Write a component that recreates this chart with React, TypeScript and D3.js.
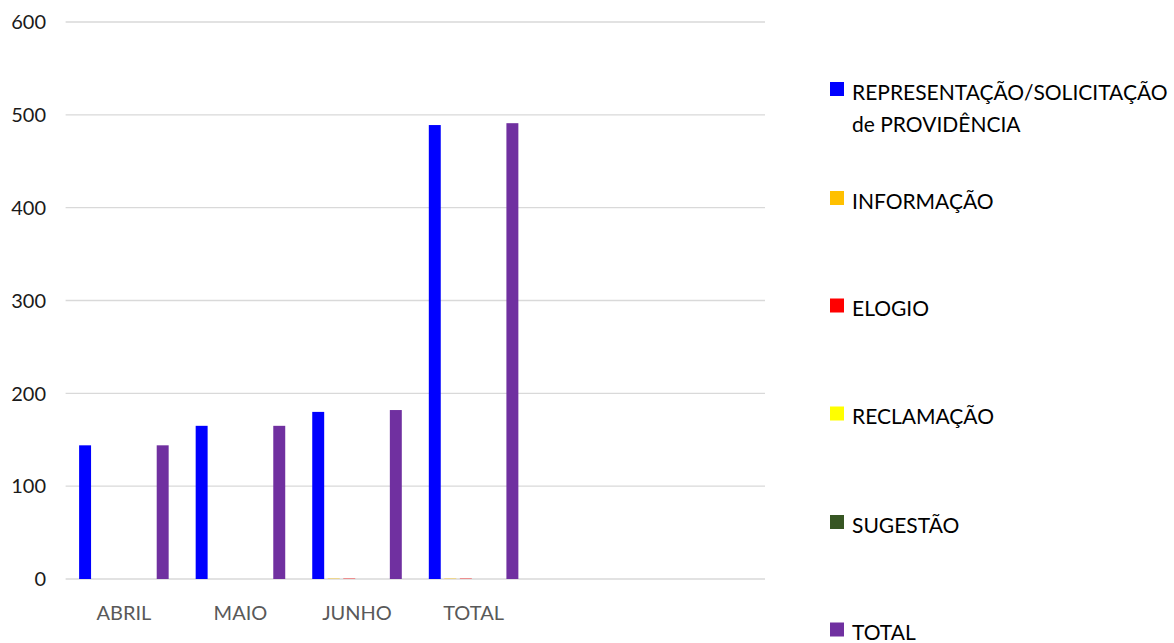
import React from "react";
import * as d3 from "d3";

const WIDTH = 1174;
const HEIGHT = 643;

// categories (last two slots are empty in the original sheet)
const categories = ["ABRIL", "MAIO", "JUNHO", "TOTAL", "", ""];

const seriesNames = [
  "REPRESENTAÇÃO/SOLICITAÇÃO de PROVIDÊNCIA",
  "INFORMAÇÃO",
  "ELOGIO",
  "RECLAMAÇÃO",
  "SUGESTÃO",
  "TOTAL",
];
const seriesColors = ["#0000FF", "#FFC000", "#FF0000", "#FFFF00", "#375623", "#7030A0"];

const representacao = [144, 165, 180, 489, 0, 0];
const informacao = [0, 0, 1, 1, 0, 0];
const elogio = [0, 0, 1, 1, 0, 0];
const reclamacao = [0, 0, 0, 0, 0, 0];
const sugestao = [0, 0, 0, 0, 0, 0];
const total = [144, 165, 182, 491, 0, 0];

const seriesValues = [representacao, informacao, elogio, reclamacao, sugestao, total];

const yTicks = [0, 100, 200, 300, 400, 500, 600];

const FONT = "Lato, 'Open Sans', sans-serif";

const App = () => {
  const svgRef = React.useRef<SVGSVGElement>(null);

  React.useEffect(() => {
    const svg = d3.select(svgRef.current);
    svg.selectAll("*").remove();

    const x0 = d3
      .scaleBand<number>()
      .domain(d3.range(categories.length))
      .range([65.6, 765]);

    const x1 = d3
      .scaleBand<number>()
      .domain(d3.range(seriesNames.length))
      .range([0, x0.bandwidth()])
      .paddingInner(0.23)
      .paddingOuter(0.87);

    const y = d3.scaleLinear().domain([0, 600]).range([579, 22]);

    // gridlines
    svg
      .append("g")
      .selectAll("line")
      .data(yTicks)
      .join("line")
      .attr("x1", x0.range()[0])
      .attr("x2", x0.range()[1])
      .attr("y1", (d) => y(d))
      .attr("y2", (d) => y(d))
      .attr("stroke", "#d9d9d9")
      .attr("stroke-width", 1.3);

    // y tick labels
    svg
      .append("g")
      .attr("font-family", FONT)
      .attr("font-size", 20)
      .attr("text-anchor", "end")
      .selectAll("text")
      .data(yTicks)
      .join("text")
      .attr("x", 46)
      .attr("y", (d) => y(d))
      .attr("dy", "0.36em")
      .attr("fill", "#1a1a1a")
      .text((d) => d);

    // x labels
    svg
      .append("g")
      .attr("font-family", FONT)
      .attr("font-size", 20)
      .attr("text-anchor", "middle")
      .selectAll("text")
      .data(categories)
      .join("text")
      .attr("x", (_d, i) => (x0(i) as number) + x0.bandwidth() / 2)
      .attr("y", 620)
      .attr("fill", "#595959")
      .text((d) => d);

    // bars
    const groups = svg
      .append("g")
      .selectAll("g")
      .data(categories.map((_c, i) => i))
      .join("g")
      .attr("transform", (i) => `translate(${x0(i)},0)`);

    groups
      .selectAll("rect")
      .data((i) => seriesValues.map((vals, s) => ({ s, v: vals[i] })))
      .join("rect")
      .filter((d) => d.v > 0)
      .attr("x", (d) => x1(d.s) as number)
      .attr("width", x1.bandwidth())
      .attr("y", (d) => y(d.v))
      .attr("height", (d) => y(0) - y(d.v))
      .attr("fill", (d) => seriesColors[d.s])
      .attr("fill-opacity", (d) => (d.v < 5 ? 0.4 : 1));

    // legend
    const legendRows = [
      { s: 0, lines: ["REPRESENTAÇÃO/SOLICITAÇÃO", "de PROVIDÊNCIA"], base: 99.5 },
      { s: 1, lines: [seriesNames[1]], base: 208.5 },
      { s: 2, lines: [seriesNames[2]], base: 316 },
      { s: 3, lines: [seriesNames[3]], base: 424 },
      { s: 4, lines: [seriesNames[4]], base: 532.5 },
      { s: 5, lines: [seriesNames[5]], base: 640 },
    ];

    const legend = svg
      .append("g")
      .attr("font-family", FONT)
      .attr("font-size", 21)
      .selectAll("g")
      .data(legendRows)
      .join("g");

    legend
      .append("rect")
      .attr("x", 830)
      .attr("y", (d) => d.base - 17.5)
      .attr("width", 14)
      .attr("height", 14)
      .attr("fill", (d) => seriesColors[d.s]);

    legend
      .append("text")
      .attr("fill", "#000")
      .selectAll("tspan")
      .data((d) => d.lines.map((t, k) => ({ t, k, base: d.base })))
      .join("tspan")
      .attr("x", 852)
      .attr("y", (d) => d.base + d.k * 32.3)
      .text((d) => d.t);
  }, []);

  return (
    <div style={{ position: "absolute", left: 0, top: 0 }}>
      <svg width={WIDTH} height={HEIGHT} ref={svgRef} style={{ display: "block", background: "#fff" }} />
    </div>
  );
};

export default App;
